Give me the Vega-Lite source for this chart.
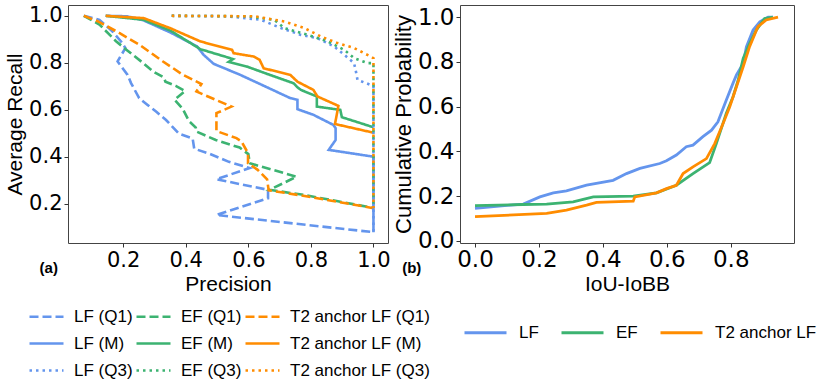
{
  "$schema": "https://vega.github.io/schema/vega-lite/v6.json",
  "padding": {"left": 4, "top": 4, "right": 0, "bottom": 0},
  "background": "white",
  "bounds": "flush",
  "spacing": 72,
  "config": {
    "view": {"stroke": "#444", "strokeWidth": 1},
    "axis": {"grid": false, "domain": false, "tickColor": "#333", "tickSize": 4, "labelColor": "black", "titleColor": "black", "labelFont": "DejaVu Sans", "titleFont": "Liberation Sans", "titleFontWeight": "normal"},
    "legend": {"labelFont": "Liberation Sans", "labelColor": "black", "labelFontSize": 17, "symbolType": "stroke"}
  },
  "datasets": {
    "pr": [
      {"series": "LF (Q1)", "step": 0, "precision": 0.074, "recall": 1.0},
      {"series": "LF (Q1)", "step": 1, "precision": 0.124, "recall": 0.983},
      {"series": "LF (Q1)", "step": 2, "precision": 0.166, "recall": 0.933},
      {"series": "LF (Q1)", "step": 3, "precision": 0.193, "recall": 0.891},
      {"series": "LF (Q1)", "step": 4, "precision": 0.207, "recall": 0.863},
      {"series": "LF (Q1)", "step": 5, "precision": 0.182, "recall": 0.806},
      {"series": "LF (Q1)", "step": 6, "precision": 0.214, "recall": 0.749},
      {"series": "LF (Q1)", "step": 7, "precision": 0.225, "recall": 0.714},
      {"series": "LF (Q1)", "step": 8, "precision": 0.251, "recall": 0.65},
      {"series": "LF (Q1)", "step": 9, "precision": 0.278, "recall": 0.621},
      {"series": "LF (Q1)", "step": 10, "precision": 0.305, "recall": 0.593},
      {"series": "LF (Q1)", "step": 11, "precision": 0.337, "recall": 0.557},
      {"series": "LF (Q1)", "step": 12, "precision": 0.378, "recall": 0.499},
      {"series": "LF (Q1)", "step": 13, "precision": 0.422, "recall": 0.478},
      {"series": "LF (Q1)", "step": 14, "precision": 0.427, "recall": 0.435},
      {"series": "LF (Q1)", "step": 15, "precision": 0.475, "recall": 0.414},
      {"series": "LF (Q1)", "step": 16, "precision": 0.538, "recall": 0.379},
      {"series": "LF (Q1)", "step": 17, "precision": 0.604, "recall": 0.353},
      {"series": "LF (Q1)", "step": 18, "precision": 0.498, "recall": 0.305},
      {"series": "LF (Q1)", "step": 19, "precision": 0.663, "recall": 0.26},
      {"series": "LF (Q1)", "step": 20, "precision": 0.663, "recall": 0.224},
      {"series": "LF (Q1)", "step": 21, "precision": 0.498, "recall": 0.153},
      {"series": "LF (Q1)", "step": 22, "precision": 1.0, "recall": 0.08},

      {"series": "EF (Q1)", "step": 0, "precision": 0.074, "recall": 1.0},
      {"series": "EF (Q1)", "step": 1, "precision": 0.124, "recall": 0.963},
      {"series": "EF (Q1)", "step": 2, "precision": 0.177, "recall": 0.892},
      {"series": "EF (Q1)", "step": 3, "precision": 0.211, "recall": 0.855},
      {"series": "EF (Q1)", "step": 4, "precision": 0.23, "recall": 0.835},
      {"series": "EF (Q1)", "step": 5, "precision": 0.264, "recall": 0.799},
      {"series": "EF (Q1)", "step": 6, "precision": 0.296, "recall": 0.763},
      {"series": "EF (Q1)", "step": 7, "precision": 0.33, "recall": 0.738},
      {"series": "EF (Q1)", "step": 8, "precision": 0.335, "recall": 0.72},
      {"series": "EF (Q1)", "step": 9, "precision": 0.368, "recall": 0.702},
      {"series": "EF (Q1)", "step": 10, "precision": 0.398, "recall": 0.68},
      {"series": "EF (Q1)", "step": 11, "precision": 0.364, "recall": 0.643},
      {"series": "EF (Q1)", "step": 12, "precision": 0.39, "recall": 0.605},
      {"series": "EF (Q1)", "step": 13, "precision": 0.41, "recall": 0.553},
      {"series": "EF (Q1)", "step": 14, "precision": 0.432, "recall": 0.525},
      {"series": "EF (Q1)", "step": 15, "precision": 0.434, "recall": 0.508},
      {"series": "EF (Q1)", "step": 16, "precision": 0.496, "recall": 0.472},
      {"series": "EF (Q1)", "step": 17, "precision": 0.572, "recall": 0.44},
      {"series": "EF (Q1)", "step": 18, "precision": 0.6, "recall": 0.412},
      {"series": "EF (Q1)", "step": 19, "precision": 0.605, "recall": 0.373},
      {"series": "EF (Q1)", "step": 20, "precision": 0.754, "recall": 0.316},
      {"series": "EF (Q1)", "step": 21, "precision": 0.668, "recall": 0.26},
      {"series": "EF (Q1)", "step": 22, "precision": 0.78, "recall": 0.238},
      {"series": "EF (Q1)", "step": 23, "precision": 1.0, "recall": 0.183},

      {"series": "T2 anchor LF (Q1)", "step": 0, "precision": 0.074, "recall": 1.0},
      {"series": "T2 anchor LF (Q1)", "step": 1, "precision": 0.118, "recall": 0.977},
      {"series": "T2 anchor LF (Q1)", "step": 2, "precision": 0.177, "recall": 0.935},
      {"series": "T2 anchor LF (Q1)", "step": 3, "precision": 0.251, "recall": 0.878},
      {"series": "T2 anchor LF (Q1)", "step": 4, "precision": 0.326, "recall": 0.807},
      {"series": "T2 anchor LF (Q1)", "step": 5, "precision": 0.39, "recall": 0.75},
      {"series": "T2 anchor LF (Q1)", "step": 6, "precision": 0.45, "recall": 0.71},
      {"series": "T2 anchor LF (Q1)", "step": 7, "precision": 0.434, "recall": 0.678},
      {"series": "T2 anchor LF (Q1)", "step": 8, "precision": 0.546, "recall": 0.614},
      {"series": "T2 anchor LF (Q1)", "step": 9, "precision": 0.498, "recall": 0.586},
      {"series": "T2 anchor LF (Q1)", "step": 10, "precision": 0.498, "recall": 0.51},
      {"series": "T2 anchor LF (Q1)", "step": 11, "precision": 0.562, "recall": 0.48},
      {"series": "T2 anchor LF (Q1)", "step": 12, "precision": 0.578, "recall": 0.466},
      {"series": "T2 anchor LF (Q1)", "step": 13, "precision": 0.599, "recall": 0.416},
      {"series": "T2 anchor LF (Q1)", "step": 14, "precision": 0.599, "recall": 0.373},
      {"series": "T2 anchor LF (Q1)", "step": 15, "precision": 0.63, "recall": 0.345},
      {"series": "T2 anchor LF (Q1)", "step": 16, "precision": 0.66, "recall": 0.305},
      {"series": "T2 anchor LF (Q1)", "step": 17, "precision": 0.665, "recall": 0.258},
      {"series": "T2 anchor LF (Q1)", "step": 18, "precision": 0.78, "recall": 0.234},
      {"series": "T2 anchor LF (Q1)", "step": 19, "precision": 1.0, "recall": 0.182},

      {"series": "LF (M)", "step": 0, "precision": 0.144, "recall": 1.0},
      {"series": "LF (M)", "step": 1, "precision": 0.213, "recall": 0.998},
      {"series": "LF (M)", "step": 2, "precision": 0.266, "recall": 0.98},
      {"series": "LF (M)", "step": 3, "precision": 0.351, "recall": 0.929},
      {"series": "LF (M)", "step": 4, "precision": 0.436, "recall": 0.87},
      {"series": "LF (M)", "step": 5, "precision": 0.457, "recall": 0.834},
      {"series": "LF (M)", "step": 6, "precision": 0.489, "recall": 0.796},
      {"series": "LF (M)", "step": 7, "precision": 0.574, "recall": 0.749},
      {"series": "LF (M)", "step": 8, "precision": 0.66, "recall": 0.696},
      {"series": "LF (M)", "step": 9, "precision": 0.734, "recall": 0.65},
      {"series": "LF (M)", "step": 10, "precision": 0.757, "recall": 0.643},
      {"series": "LF (M)", "step": 11, "precision": 0.757, "recall": 0.603},
      {"series": "LF (M)", "step": 12, "precision": 0.808, "recall": 0.579},
      {"series": "LF (M)", "step": 13, "precision": 0.872, "recall": 0.536},
      {"series": "LF (M)", "step": 14, "precision": 0.879, "recall": 0.522},
      {"series": "LF (M)", "step": 15, "precision": 0.879, "recall": 0.472},
      {"series": "LF (M)", "step": 16, "precision": 0.857, "recall": 0.43},
      {"series": "LF (M)", "step": 17, "precision": 1.0, "recall": 0.401},
      {"series": "LF (M)", "step": 18, "precision": 1.0, "recall": 0.08},

      {"series": "EF (M)", "step": 0, "precision": 0.144, "recall": 1.0},
      {"series": "EF (M)", "step": 1, "precision": 0.266, "recall": 0.983},
      {"series": "EF (M)", "step": 2, "precision": 0.351, "recall": 0.937},
      {"series": "EF (M)", "step": 3, "precision": 0.447, "recall": 0.858},
      {"series": "EF (M)", "step": 4, "precision": 0.532, "recall": 0.824},
      {"series": "EF (M)", "step": 5, "precision": 0.551, "recall": 0.816},
      {"series": "EF (M)", "step": 6, "precision": 0.537, "recall": 0.804},
      {"series": "EF (M)", "step": 7, "precision": 0.596, "recall": 0.784},
      {"series": "EF (M)", "step": 8, "precision": 0.66, "recall": 0.753},
      {"series": "EF (M)", "step": 9, "precision": 0.745, "recall": 0.713},
      {"series": "EF (M)", "step": 10, "precision": 0.757, "recall": 0.696},
      {"series": "EF (M)", "step": 11, "precision": 0.768, "recall": 0.685},
      {"series": "EF (M)", "step": 12, "precision": 0.819, "recall": 0.657},
      {"series": "EF (M)", "step": 13, "precision": 0.819, "recall": 0.614},
      {"series": "EF (M)", "step": 14, "precision": 0.894, "recall": 0.6},
      {"series": "EF (M)", "step": 15, "precision": 0.899, "recall": 0.569},
      {"series": "EF (M)", "step": 16, "precision": 1.0, "recall": 0.526},

      {"series": "T2 anchor LF (M)", "step": 0, "precision": 0.144, "recall": 1.0},
      {"series": "T2 anchor LF (M)", "step": 1, "precision": 0.266, "recall": 0.99},
      {"series": "T2 anchor LF (M)", "step": 2, "precision": 0.351, "recall": 0.947},
      {"series": "T2 anchor LF (M)", "step": 3, "precision": 0.447, "recall": 0.891},
      {"series": "T2 anchor LF (M)", "step": 4, "precision": 0.548, "recall": 0.855},
      {"series": "T2 anchor LF (M)", "step": 5, "precision": 0.553, "recall": 0.841},
      {"series": "T2 anchor LF (M)", "step": 6, "precision": 0.617, "recall": 0.827},
      {"series": "T2 anchor LF (M)", "step": 7, "precision": 0.636, "recall": 0.813},
      {"series": "T2 anchor LF (M)", "step": 8, "precision": 0.649, "recall": 0.777},
      {"series": "T2 anchor LF (M)", "step": 9, "precision": 0.734, "recall": 0.749},
      {"series": "T2 anchor LF (M)", "step": 10, "precision": 0.757, "recall": 0.72},
      {"series": "T2 anchor LF (M)", "step": 11, "precision": 0.808, "recall": 0.685},
      {"series": "T2 anchor LF (M)", "step": 12, "precision": 0.821, "recall": 0.657},
      {"series": "T2 anchor LF (M)", "step": 13, "precision": 0.888, "recall": 0.617},
      {"series": "T2 anchor LF (M)", "step": 14, "precision": 0.877, "recall": 0.54},
      {"series": "T2 anchor LF (M)", "step": 15, "precision": 1.0, "recall": 0.503},

      {"series": "LF (Q3)", "step": 0, "precision": 0.355, "recall": 1.0},
      {"series": "LF (Q3)", "step": 1, "precision": 0.532, "recall": 0.998},
      {"series": "LF (Q3)", "step": 2, "precision": 0.64, "recall": 0.983},
      {"series": "LF (Q3)", "step": 3, "precision": 0.704, "recall": 0.948},
      {"series": "LF (Q3)", "step": 4, "precision": 0.768, "recall": 0.919},
      {"series": "LF (Q3)", "step": 5, "precision": 0.821, "recall": 0.905},
      {"series": "LF (Q3)", "step": 6, "precision": 0.875, "recall": 0.869},
      {"series": "LF (Q3)", "step": 7, "precision": 0.907, "recall": 0.834},
      {"series": "LF (Q3)", "step": 8, "precision": 0.938, "recall": 0.799},
      {"series": "LF (Q3)", "step": 9, "precision": 0.944, "recall": 0.763},
      {"series": "LF (Q3)", "step": 10, "precision": 0.949, "recall": 0.728},
      {"series": "LF (Q3)", "step": 11, "precision": 0.991, "recall": 0.706},
      {"series": "LF (Q3)", "step": 12, "precision": 1.0, "recall": 0.7},
      {"series": "LF (Q3)", "step": 13, "precision": 1.0, "recall": 0.08},

      {"series": "EF (Q3)", "step": 0, "precision": 0.355, "recall": 1.0},
      {"series": "EF (Q3)", "step": 1, "precision": 0.6, "recall": 0.998},
      {"series": "EF (Q3)", "step": 2, "precision": 0.683, "recall": 0.983},
      {"series": "EF (Q3)", "step": 3, "precision": 0.715, "recall": 0.948},
      {"series": "EF (Q3)", "step": 4, "precision": 0.79, "recall": 0.919},
      {"series": "EF (Q3)", "step": 5, "precision": 0.854, "recall": 0.891},
      {"series": "EF (Q3)", "step": 6, "precision": 0.907, "recall": 0.855},
      {"series": "EF (Q3)", "step": 7, "precision": 0.938, "recall": 0.82},
      {"series": "EF (Q3)", "step": 8, "precision": 0.981, "recall": 0.799},
      {"series": "EF (Q3)", "step": 9, "precision": 1.0, "recall": 0.799},
      {"series": "EF (Q3)", "step": 10, "precision": 1.0, "recall": 0.183},

      {"series": "T2 anchor LF (Q3)", "step": 0, "precision": 0.355, "recall": 1.0},
      {"series": "T2 anchor LF (Q3)", "step": 1, "precision": 0.62, "recall": 0.998},
      {"series": "T2 anchor LF (Q3)", "step": 2, "precision": 0.715, "recall": 0.976},
      {"series": "T2 anchor LF (Q3)", "step": 3, "precision": 0.779, "recall": 0.948},
      {"series": "T2 anchor LF (Q3)", "step": 4, "precision": 0.832, "recall": 0.912},
      {"series": "T2 anchor LF (Q3)", "step": 5, "precision": 0.885, "recall": 0.884},
      {"series": "T2 anchor LF (Q3)", "step": 6, "precision": 0.938, "recall": 0.863},
      {"series": "T2 anchor LF (Q3)", "step": 7, "precision": 0.991, "recall": 0.827},
      {"series": "T2 anchor LF (Q3)", "step": 8, "precision": 1.0, "recall": 0.82},
      {"series": "T2 anchor LF (Q3)", "step": 9, "precision": 1.0, "recall": 0.182}
    ],
    "cdf": [
      {"method": "LF", "step": 0, "iou": 0.0, "prob": 0.146},
      {"method": "LF", "step": 1, "iou": 0.151, "prob": 0.165},
      {"method": "LF", "step": 2, "iou": 0.203, "prob": 0.197},
      {"method": "LF", "step": 3, "iou": 0.245, "prob": 0.215},
      {"method": "LF", "step": 4, "iou": 0.286, "prob": 0.224},
      {"method": "LF", "step": 5, "iou": 0.349, "prob": 0.249},
      {"method": "LF", "step": 6, "iou": 0.432, "prob": 0.271},
      {"method": "LF", "step": 7, "iou": 0.474, "prob": 0.301},
      {"method": "LF", "step": 8, "iou": 0.516, "prob": 0.324},
      {"method": "LF", "step": 9, "iou": 0.578, "prob": 0.346},
      {"method": "LF", "step": 10, "iou": 0.599, "prob": 0.358},
      {"method": "LF", "step": 11, "iou": 0.63, "prob": 0.384},
      {"method": "LF", "step": 12, "iou": 0.661, "prob": 0.421},
      {"method": "LF", "step": 13, "iou": 0.682, "prob": 0.428},
      {"method": "LF", "step": 14, "iou": 0.713, "prob": 0.466},
      {"method": "LF", "step": 15, "iou": 0.74, "prob": 0.495},
      {"method": "LF", "step": 16, "iou": 0.76, "prob": 0.532},
      {"method": "LF", "step": 17, "iou": 0.786, "prob": 0.629},
      {"method": "LF", "step": 18, "iou": 0.807, "prob": 0.704},
      {"method": "LF", "step": 19, "iou": 0.818, "prob": 0.742},
      {"method": "LF", "step": 20, "iou": 0.839, "prob": 0.793},
      {"method": "LF", "step": 21, "iou": 0.849, "prob": 0.867},
      {"method": "LF", "step": 22, "iou": 0.87, "prob": 0.942},
      {"method": "LF", "step": 23, "iou": 0.891, "prob": 0.979},
      {"method": "LF", "step": 24, "iou": 0.917, "prob": 1.0},
      {"method": "LF", "step": 25, "iou": 0.932, "prob": 1.0},

      {"method": "EF", "step": 0, "iou": 0.0, "prob": 0.158},
      {"method": "EF", "step": 1, "iou": 0.151, "prob": 0.163},
      {"method": "EF", "step": 2, "iou": 0.224, "prob": 0.165},
      {"method": "EF", "step": 3, "iou": 0.307, "prob": 0.175},
      {"method": "EF", "step": 4, "iou": 0.37, "prob": 0.197},
      {"method": "EF", "step": 5, "iou": 0.495, "prob": 0.2},
      {"method": "EF", "step": 6, "iou": 0.568, "prob": 0.215},
      {"method": "EF", "step": 7, "iou": 0.63, "prob": 0.249},
      {"method": "EF", "step": 8, "iou": 0.682, "prob": 0.301},
      {"method": "EF", "step": 9, "iou": 0.734, "prob": 0.35},
      {"method": "EF", "step": 10, "iou": 0.755, "prob": 0.435},
      {"method": "EF", "step": 11, "iou": 0.786, "prob": 0.569},
      {"method": "EF", "step": 12, "iou": 0.807, "prob": 0.643},
      {"method": "EF", "step": 13, "iou": 0.823, "prob": 0.717},
      {"method": "EF", "step": 14, "iou": 0.839, "prob": 0.815},
      {"method": "EF", "step": 15, "iou": 0.859, "prob": 0.882},
      {"method": "EF", "step": 16, "iou": 0.88, "prob": 0.942},
      {"method": "EF", "step": 17, "iou": 0.906, "prob": 0.994},
      {"method": "EF", "step": 18, "iou": 0.932, "prob": 1.0},

      {"method": "T2 anchor LF", "step": 0, "iou": 0.0, "prob": 0.109},
      {"method": "T2 anchor LF", "step": 1, "iou": 0.224, "prob": 0.123},
      {"method": "T2 anchor LF", "step": 2, "iou": 0.286, "prob": 0.138},
      {"method": "T2 anchor LF", "step": 3, "iou": 0.349, "prob": 0.16},
      {"method": "T2 anchor LF", "step": 4, "iou": 0.38, "prob": 0.172},
      {"method": "T2 anchor LF", "step": 5, "iou": 0.495, "prob": 0.178},
      {"method": "T2 anchor LF", "step": 6, "iou": 0.5, "prob": 0.197},
      {"method": "T2 anchor LF", "step": 7, "iou": 0.568, "prob": 0.215},
      {"method": "T2 anchor LF", "step": 8, "iou": 0.599, "prob": 0.234},
      {"method": "T2 anchor LF", "step": 9, "iou": 0.63, "prob": 0.249},
      {"method": "T2 anchor LF", "step": 10, "iou": 0.651, "prob": 0.301},
      {"method": "T2 anchor LF", "step": 11, "iou": 0.682, "prob": 0.331},
      {"method": "T2 anchor LF", "step": 12, "iou": 0.724, "prob": 0.368},
      {"method": "T2 anchor LF", "step": 13, "iou": 0.75, "prob": 0.435},
      {"method": "T2 anchor LF", "step": 14, "iou": 0.776, "prob": 0.525},
      {"method": "T2 anchor LF", "step": 15, "iou": 0.797, "prob": 0.6},
      {"method": "T2 anchor LF", "step": 16, "iou": 0.818, "prob": 0.689},
      {"method": "T2 anchor LF", "step": 17, "iou": 0.839, "prob": 0.778},
      {"method": "T2 anchor LF", "step": 18, "iou": 0.859, "prob": 0.868},
      {"method": "T2 anchor LF", "step": 19, "iou": 0.885, "prob": 0.957},
      {"method": "T2 anchor LF", "step": 20, "iou": 0.911, "prob": 0.987},
      {"method": "T2 anchor LF", "step": 21, "iou": 0.948, "prob": 1.0}
    ]
  },
  "resolve": {"scale": {"color": "independent", "strokeDash": "independent", "x": "independent", "y": "independent"}, "legend": {"color": "independent", "strokeDash": "independent"}},
  "hconcat": [
    {
      "width": 320,
      "height": 238,
      "layer": [
        {
          "data": {"name": "pr"},
          "mark": {"type": "line", "strokeWidth": 2.6, "clip": true},
          "encoding": {
            "x": {"field": "precision", "type": "quantitative", "scale": {"domain": [0.0235, 1.0465], "nice": false, "zero": false},
              "axis": {"title": "Precision", "values": [0.2, 0.4, 0.6, 0.8, 1.0], "format": ".1f", "labelFontSize": 21, "titleFontSize": 21, "labelPadding": 2, "titlePadding": 3}},
            "y": {"field": "recall", "type": "quantitative", "scale": {"domain": [0.034, 1.046], "nice": false, "zero": false},
              "axis": {"title": "Average Recall", "values": [0.2, 0.4, 0.6, 0.8, 1.0], "format": ".1f", "labelFontSize": 21, "titleFontSize": 21, "labelPadding": 2, "titlePadding": 3}},
            "color": {"field": "series", "type": "nominal",
              "scale": {"domain": ["LF (Q1)", "LF (M)", "LF (Q3)", "EF (Q1)", "EF (M)", "EF (Q3)", "T2 anchor LF (Q1)", "T2 anchor LF (M)", "T2 anchor LF (Q3)"],
                "range": ["#6495ED", "#6495ED", "#6495ED", "#3CB371", "#3CB371", "#3CB371", "#FF8C00", "#FF8C00", "#FF8C00"]},
              "legend": {"title": null, "orient": "none", "legendX": -40, "legendY": 293, "columns": 3, "gridAlign": "each", "symbolSize": 1156, "symbolStrokeWidth": 2.6, "labelOffset": 9, "columnPadding": -2, "rowPadding": 0}},
            "strokeDash": {"field": "series", "type": "nominal",
              "scale": {"domain": ["LF (Q1)", "LF (M)", "LF (Q3)", "EF (Q1)", "EF (M)", "EF (Q3)", "T2 anchor LF (Q1)", "T2 anchor LF (M)", "T2 anchor LF (Q3)"],
                "range": [[9, 4], [1, 0], [2.5, 4], [9, 4], [1, 0], [2.5, 4], [9, 4], [1, 0], [2.5, 4]]}},
            "order": {"field": "step", "type": "quantitative"}
          }
        },
        {
          "data": {"values": [{"label": "(a)", "precision": -0.038, "recall": -0.072}]},
          "mark": {"type": "text", "font": "Liberation Sans", "fontWeight": "bold", "fontSize": 15, "color": "black", "align": "center", "baseline": "middle"},
          "encoding": {
            "x": {"field": "precision", "type": "quantitative"},
            "y": {"field": "recall", "type": "quantitative"},
            "text": {"field": "label"}
          }
        }
      ]
    },
    {
      "width": 334,
      "height": 238,
      "layer": [
        {
          "data": {"name": "cdf"},
          "mark": {"type": "line", "strokeWidth": 2.8, "clip": true},
          "encoding": {
            "x": {"field": "iou", "type": "quantitative", "scale": {"domain": [-0.047, 0.998], "nice": false, "zero": false},
              "axis": {"title": "IoU-IoBB", "values": [0, 0.2, 0.4, 0.6, 0.8, 1.0], "format": ".1f", "labelFontSize": 23, "titleFontSize": 21, "labelPadding": 1, "titlePadding": 2}},
            "y": {"field": "prob", "type": "quantitative", "scale": {"domain": [-0.009, 1.054], "nice": false, "zero": false},
              "axis": {"title": "Cumulative Probability", "values": [0, 0.2, 0.4, 0.6, 0.8, 1.0], "format": ".1f", "labelFontSize": 23, "titleFontSize": 22, "labelPadding": 2, "titlePadding": 2}},
            "color": {"field": "method", "type": "nominal",
              "scale": {"domain": ["LF", "EF", "T2 anchor LF"], "range": ["#6495ED", "#3CB371", "#FF8C00"]},
              "legend": {"title": null, "orient": "none", "legendX": 3, "legendY": 305, "direction": "horizontal", "columns": 3, "gridAlign": "each", "symbolSize": 1764, "symbolStrokeWidth": 3, "labelOffset": 11, "columnPadding": 16}},
            "order": {"field": "step", "type": "quantitative"}
          }
        },
        {
          "data": {"values": [{"label": "(b)", "iou": -0.198, "prob": -0.12}]},
          "mark": {"type": "text", "font": "Liberation Sans", "fontWeight": "bold", "fontSize": 15, "color": "black", "align": "center", "baseline": "middle"},
          "encoding": {
            "x": {"field": "iou", "type": "quantitative"},
            "y": {"field": "prob", "type": "quantitative"},
            "text": {"field": "label"}
          }
        }
      ]
    }
  ]
}
